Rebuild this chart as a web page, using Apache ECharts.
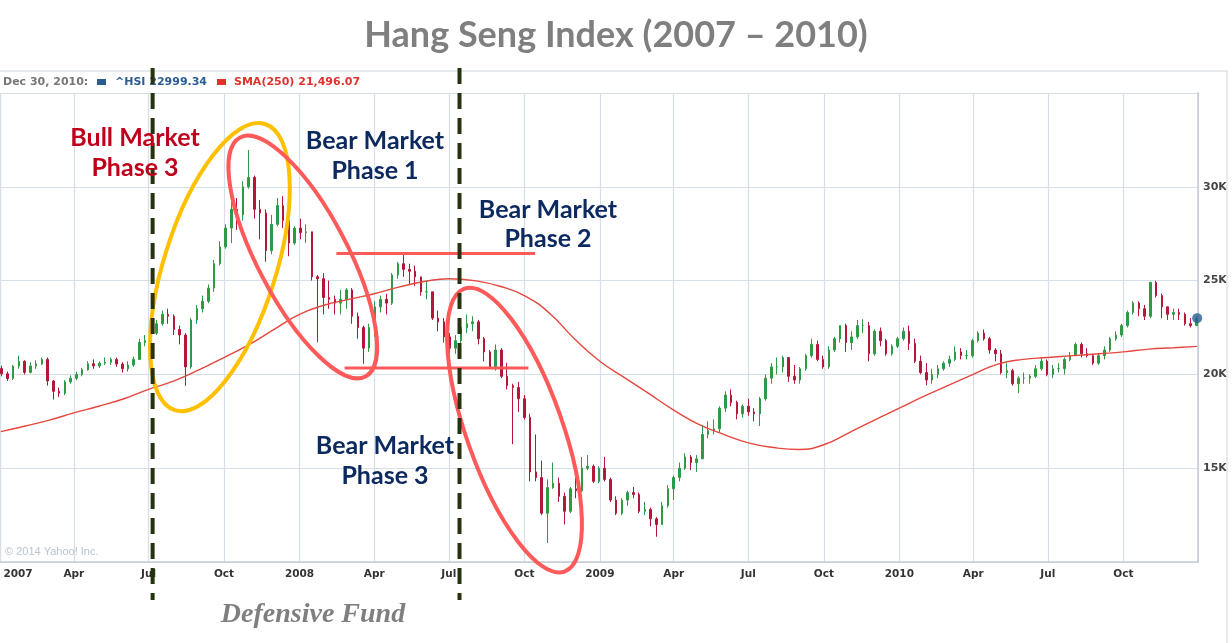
<!DOCTYPE html>
<html>
<head>
<meta charset="utf-8">
<title>Hang Seng Index (2007 – 2010)</title>
<script src="https://cdn.jsdelivr.net/npm/echarts@6/dist/echarts.min.js"></script>
<style>
    html, body {margin: 0; padding: 0; background: #fff;}
    #chart {width: 1232px; height: 643px;}
</style>
</head>
<body>
<div id="chart"></div>
<script>
// weekly candles, one row per week (Mon-Fri), [open, close, low, high]
const firstWeek = [2007, 0, 3];

const hsi2007 = [
    [20310, 20030, 19900, 20460], [20030, 19780, 19650, 20150], [19780, 20440, 19700, 20500], [20440, 20700, 20300, 21000],
    [20700, 20110, 20000, 20750], [20110, 20450, 20050, 20650], [20450, 20560, 20300, 20750], [20560, 20800, 20500, 20900],
    [20800, 19650, 19400, 20900], [19650, 19100, 18660, 19700], [19100, 19000, 18800, 19300], [19000, 19600, 18900, 19700],
    [19600, 19800, 19500, 19950], [19800, 20000, 19700, 20150], [20000, 20250, 19900, 20350], [20250, 20570, 20200, 20700],
    [20570, 20450, 20300, 20800], [20450, 20600, 20350, 20700], [20600, 20650, 20500, 20900], [20650, 20800, 20500, 20900],
    [20800, 20550, 20400, 20900], [20550, 20300, 20100, 20650], [20300, 20500, 20150, 20700], [20500, 20800, 20400, 20950],
    [20800, 21700, 20800, 21900], [21700, 21800, 21500, 22100], [21800, 22200, 21700, 22400], [22200, 22700, 22100, 22900],
    [22700, 23200, 22600, 23400], [23200, 23100, 22700, 23500], [23100, 22400, 22100, 23200], [22400, 22100, 21600, 22600],
    [22100, 20400, 19390, 22200], [20400, 22900, 20300, 23000], [22900, 23500, 22700, 23700], [23500, 23900, 23300, 24200],
    [23900, 24600, 23800, 24800], [24600, 25900, 24400, 26100], [25900, 26800, 25800, 27100], [26800, 27800, 26700, 28000],
    [27800, 28800, 27000, 29200], [28800, 28500, 27700, 29400], [28500, 30000, 28200, 30300], [30000, 30500, 29900, 31960],
    [30500, 28800, 28300, 30600], [28800, 28600, 27200, 29300], [28600, 26600, 26000, 28800], [26600, 28000, 26400, 28500],
    [28000, 29000, 27900, 29400], [29000, 28200, 27800, 29500], [28200, 27000, 26300, 28300], [27000, 27800, 26900, 27900]
];

const hsi2008 = [
    [27800, 27560, 27200, 28300], [27560, 27600, 27000, 28000], [27600, 25200, 25000, 27600], [25200, 25100, 21710, 25300],
    [25100, 24100, 23200, 25400], [24100, 24000, 23500, 25000], [24000, 23800, 23200, 24200], [23800, 24000, 23200, 24500],
    [24000, 24500, 23500, 24600], [24500, 23100, 22700, 24600], [23100, 22500, 21900, 23300], [22500, 21400, 20570, 22600],
    [21400, 22500, 21200, 22700], [22500, 23600, 22000, 23900], [23600, 24000, 23300, 24200], [24000, 23800, 23200, 24300],
    [23800, 25300, 23700, 25400], [25300, 25900, 25100, 26000], [25900, 25600, 25200, 26390], [25600, 25500, 24800, 25900],
    [25500, 25200, 24700, 25800], [25200, 24400, 24200, 25200], [24400, 24400, 24000, 25000], [24400, 23000, 22900, 24400],
    [23000, 22800, 22300, 23400], [22800, 22000, 21700, 23000], [22000, 21400, 21100, 22200], [21400, 21800, 21100, 22100],
    [21800, 22500, 21200, 22700], [22500, 22700, 22200, 23200], [22700, 22800, 22300, 23100], [22800, 21900, 21600, 22900],
    [21900, 21200, 20700, 22000], [21200, 20400, 20300, 21300], [20400, 21300, 20200, 21600], [21300, 19900, 19800, 21400],
    [19900, 19400, 19200, 20600], [19400, 19300, 16280, 19500], [19300, 18700, 18000, 19600], [18700, 17700, 17600, 18900],
    [17700, 14800, 14300, 17900], [14800, 14500, 14300, 16800], [14500, 12600, 12500, 15400], [12600, 13970, 11015, 14400],
    [13970, 14200, 13900, 15300], [14200, 13500, 13200, 14500], [13500, 12700, 12000, 13700], [12700, 13900, 12600, 14000],
    [13900, 13800, 13400, 14500], [13800, 15000, 13700, 15600], [15000, 15100, 14900, 15700], [15100, 14300, 14200, 15200],
    [14300, 15000, 14200, 15100]
];

const hsi2009 = [
    [15000, 14400, 14300, 15600], [14400, 13300, 13200, 14500], [13300, 12600, 12500, 13500], [12600, 13300, 12500, 13400],
    [13300, 13700, 13000, 13800], [13700, 13600, 13400, 14000], [13600, 12700, 12600, 13700], [12700, 12800, 12500, 13200],
    [12800, 12300, 11900, 12900], [12300, 12000, 11345, 12400], [12000, 13000, 12000, 13200], [13000, 13900, 12900, 14100],
    [13900, 14500, 13300, 14600], [14500, 15000, 14300, 15300], [15000, 15600, 14900, 15800], [15600, 15300, 14900, 15700],
    [15300, 15500, 14800, 15700], [15500, 16800, 15500, 17300], [16800, 17000, 16600, 17500], [17000, 17100, 16800, 17600],
    [17100, 18200, 16900, 18300], [18200, 18900, 18000, 19100], [18900, 18500, 18300, 19200], [18500, 17900, 17600, 18600],
    [17900, 18300, 17700, 18400], [18300, 18000, 17800, 18700], [18000, 17900, 17500, 18200], [17900, 18700, 17250, 18800],
    [18700, 19800, 18600, 20000], [19800, 20400, 19500, 20600], [20400, 20400, 20000, 20900], [20400, 20900, 20100, 21000],
    [20900, 19900, 19600, 20900], [19900, 19700, 19500, 20500], [19700, 20300, 19500, 20400], [20300, 21000, 20200, 21100],
    [21000, 21600, 20900, 21900], [21600, 20800, 20700, 21800], [20800, 20400, 20300, 21000], [20400, 21300, 20300, 21500],
    [21300, 21900, 21200, 22000], [21900, 22600, 21700, 22600], [22600, 21700, 21200, 22700], [21700, 22000, 21300, 22300],
    [22000, 22600, 21900, 22900], [22600, 22600, 22200, 22940], [22600, 21100, 20700, 22800], [21100, 22300, 21000, 22400],
    [22300, 21800, 21500, 22500], [21800, 21100, 21000, 21900], [21100, 21500, 21000, 21600], [21500, 21900, 21400, 22000]
];

const hsi2010 = [
    [21900, 22300, 21800, 22500], [22300, 21650, 21300, 22600], [21650, 20700, 20600, 21900], [20700, 20100, 20000, 21000],
    [20100, 19700, 19420, 20600], [19700, 20000, 19500, 20300], [20000, 20300, 19800, 20500], [20300, 20600, 20200, 20700],
    [20600, 20800, 20400, 21000], [20800, 21200, 20700, 21500], [21200, 21000, 20800, 21400], [21000, 21000, 20800, 21300],
    [21000, 21800, 20900, 21900], [21800, 22200, 21700, 22300], [22200, 21900, 21800, 22400], [21900, 21300, 21100, 22000],
    [21300, 21100, 20700, 21400], [21100, 20100, 20000, 21300], [20100, 20200, 19800, 20600], [20200, 19500, 19400, 20300],
    [19500, 19800, 19000, 19900], [19800, 19800, 19500, 20100], [19800, 19900, 19500, 20000], [19900, 20300, 19800, 20500],
    [20300, 20700, 20200, 20900], [20700, 20000, 19900, 20800], [20000, 20300, 19800, 20500], [20300, 20300, 20100, 20600],
    [20300, 20800, 20000, 20900], [20800, 21000, 20700, 21200], [21000, 21600, 21000, 21700], [21600, 21100, 20900, 21700],
    [21100, 21000, 20900, 21400], [21000, 20600, 20500, 21100], [20600, 21000, 20500, 21100], [21000, 21300, 20800, 21500],
    [21300, 21900, 21200, 22000], [21900, 22100, 21800, 22300], [22100, 22600, 22000, 22700], [22600, 23300, 22500, 23400],
    [23300, 23800, 23200, 23900], [23800, 23500, 23100, 23900], [23500, 23100, 22900, 23700], [23100, 24900, 23000, 24950],
    [24900, 24200, 24100, 24990], [24200, 23600, 23000, 24300], [23600, 23200, 22900, 23600], [23200, 23300, 22900, 23500],
    [23300, 23200, 22900, 23500], [23200, 22700, 22600, 23300], [22700, 22600, 22500, 23000], [22600, 23000, 22600, 23100]
];

// SMA(250), read at the start of each month, plus the last day
const smaMonthly = [
    16950, 17250, 17550, 17950, 18300, 18700, 19200, 19650, 20250, 20900, 21600, 22400,
    23200, 23700, 24000, 24300, 24650, 24950, 25100, 25000, 24700, 24200, 23250, 21900,
    20700, 19800, 19000, 18100, 17350, 16800, 16350, 16100, 16000, 16250, 16900, 17550,
    18200, 18850, 19400, 20000, 20550, 20800, 20900, 21000, 21100, 21200, 21350, 21420
];
const smaLast = ['2010-12-30', 21496.07];
const lastQuote = ['2010-12-30', 22999.34];

const monthNames = ['Jan', 'Feb', 'Mar', 'Apr', 'May', 'Jun', 'Jul', 'Aug', 'Sep', 'Oct', 'Nov', 'Dec'];
const yTicks = [15000, 20000, 25000, 30000];

const chart = echarts.init(document.getElementById('chart'));

const weekly = [].concat(hsi2007, hsi2008, hsi2009, hsi2010);
const candles = weekly.map((row, i) => {
    const d = new Date(firstWeek[0], firstWeek[1], firstWeek[2] + 7 * i);
    return [d.getTime()].concat(row);
});

const sma = smaMonthly.map((v, i) => [new Date(2007 + Math.floor(i / 12), i % 12, i === 0 ? 2 : 1).getTime(), v]);
sma.push([new Date(smaLast[0] + 'T00:00:00').getTime(), smaLast[1]]);

const xMin = new Date(2007, 0, 1).getTime();
const gridColor = '#d6dee6';

chart.setOption({
    animation: false,
    backgroundColor: '#fff',
    grid: {left: 0, right: 34, top: 93, bottom: 81, containLabel: false, outerBoundsMode: 'none'},
    xAxis: {
        type: 'time',
        min: xMin,
        max: new Date(2010, 11, 31).getTime(),
        splitNumber: 16,
        axisLine: {lineStyle: {color: '#c3cdd7', width: 1.5}},
        axisTick: {show: false},
        splitLine: {show: true, lineStyle: {color: gridColor, width: 1.2}},
        axisLabel: {
            color: '#333',
            fontFamily: 'DejaVu Sans',
            fontSize: 10.5,
            fontWeight: 'bold',
            margin: 7,
            formatter: value => {
                const d = new Date(value);
                if (d.getMonth() !== 0) return monthNames[d.getMonth()];
                // first label sits flush with the left edge
                return value <= xMin ? '{first|' + d.getFullYear() + '}' : String(d.getFullYear());
            },
            rich: {
                first: {
                    color: '#333', fontFamily: 'DejaVu Sans', fontSize: 10.5, fontWeight: 'bold',
                    padding: [0, 0, 0, 36]
                }
            }
        }
    },
    yAxis: {
        type: 'value',
        position: 'right',
        min: 10000,
        max: 35000,
        interval: 5000,
        axisLine: {show: true, lineStyle: {color: '#c3cdd7', width: 1.5}},
        axisTick: {show: false},
        splitLine: {show: true, lineStyle: {color: gridColor, width: 1.2}},
        axisLabel: {
            color: '#444',
            fontFamily: 'DejaVu Sans',
            fontSize: 11,
            fontWeight: 'bold',
            margin: 5,
            formatter: v => yTicks.indexOf(v) >= 0 ? (v / 1000) + 'K' : ''
        }
    },
    series: [
        {
            name: '^HSI',
            type: 'candlestick',
            data: candles,
            encode: {x: 0, y: [1, 2, 3, 4]},
            barWidth: 2,
            itemStyle: {
                color: '#2f9a45',
                color0: '#b3183b',
                borderColor: '#2f9a45',
                borderColor0: '#b3183b',
                borderWidth: 1
            }
        },
        {
            name: 'SMA(250)',
            type: 'line',
            data: sma,
            smooth: true,
            showSymbol: false,
            lineStyle: {color: '#e6473e', width: 1.4}
        },
        {
            type: 'scatter',
            data: [[new Date(lastQuote[0] + 'T00:00:00').getTime(), lastQuote[1]]],
            symbolSize: 10,
            itemStyle: {color: '#2b5d93'},
            clip: false,
            z: 5
        }
    ]
});

// annotations, placed from dates and index levels
const px = (date, value) => chart.convertToPixel({xAxisIndex: 0, yAxisIndex: 0}, [new Date(date + 'T00:00:00').getTime(), value]);

const dashX = ['2007-07-06', '2008-07-14'].map(d => px(d, 20000)[0]);
const topBand = ['2008-02-15', '2008-10-14'].map(d => px(d, 26450));
const lowBand = ['2008-02-25', '2008-10-06'].map(d => px(d, 20340));
const yellow = px('2007-09-26', 25720);
const bear1 = px('2008-01-05', 26260);
const bear3 = px('2008-09-19', 17030);

const ring = (c, rx, ry, rot, color) => ({
    type: 'ellipse',
    x: c[0], y: c[1], rotation: rot,
    shape: {cx: 0, cy: 0, rx: rx, ry: ry},
    style: {fill: null, stroke: color, lineWidth: 4},
    z: 50
});
const label = (x, y, text, fill, font) => ({
    type: 'text', x: x, y: y, z: 60,
    style: {text: text, fill: fill, font: font, textAlign: 'center', textVerticalAlign: 'middle'}
});
const phaseFont = 'bold 25px Lato';
const bullRed = '#c0001a';
const bearBlue = '#0d2a60';
const legendFont = 'bold 11px "DejaVu Sans"';

chart.setOption({
    graphic: [
        {type: 'line', shape: {x1: 0, y1: 71, x2: 1228, y2: 71}, style: {stroke: '#dfe5eb', lineWidth: 1.5}, z: 1},
        {type: 'line', shape: {x1: 1227, y1: 71, x2: 1227, y2: 643}, style: {stroke: '#dfe5eb', lineWidth: 1.5}, z: 1},
        {type: 'text', x: 616, y: 35, style: {text: 'Hang Seng Index (2007 – 2010)', fill: '#7f7f7f', font: 'bold 36px Lato', textAlign: 'center', textVerticalAlign: 'middle'}},
        {type: 'text', x: 3, y: 82, style: {text: 'Dec 30, 2010:', fill: '#777', font: legendFont, textVerticalAlign: 'middle'}},
        {type: 'rect', shape: {x: 97, y: 79, width: 9, height: 6}, style: {fill: '#2b5d93'}},
        {type: 'text', x: 115, y: 82, style: {text: '^HSI 22999.34', fill: '#2b5d93', font: legendFont, textVerticalAlign: 'middle'}},
        {type: 'rect', shape: {x: 217, y: 79, width: 9, height: 6}, style: {fill: '#e0332b'}},
        {type: 'text', x: 234, y: 82, style: {text: 'SMA(250) 21,496.07', fill: '#e0332b', font: legendFont, textVerticalAlign: 'middle'}},
        {type: 'text', x: 5, y: 552, style: {text: '© 2014 Yahoo! Inc.', fill: '#b7c3cf', font: '11px "Liberation Sans"', textVerticalAlign: 'middle'}},
        ring(yellow, 56, 150, -0.305, '#ffc000'),
        ring(bear1, 45, 135, 0.483, '#ff5a5a'),
        ring(bear3, 48, 150, 0.34, '#ff5a5a'),
        {type: 'line', shape: {x1: topBand[0][0], y1: topBand[0][1], x2: topBand[1][0], y2: topBand[1][1]}, style: {stroke: '#ff5a5a', lineWidth: 3}, z: 50},
        {type: 'line', shape: {x1: lowBand[0][0], y1: lowBand[0][1], x2: lowBand[1][0], y2: lowBand[1][1]}, style: {stroke: '#ff5a5a', lineWidth: 3}, z: 50},
        ...dashX.map(x => ({
            type: 'line', z: 55,
            shape: {x1: x, y1: 68, x2: x, y2: 600},
            style: {stroke: '#27330f', lineWidth: 4, lineDash: [16, 9]}
        })),
        label(135, 138, 'Bull Market', bullRed, phaseFont),
        label(135, 168, 'Phase 3', bullRed, phaseFont),
        label(375, 141, 'Bear Market', bearBlue, phaseFont),
        label(375, 171, 'Phase 1', bearBlue, phaseFont),
        label(548, 210, 'Bear Market', bearBlue, phaseFont),
        label(548, 239, 'Phase 2', bearBlue, phaseFont),
        label(385, 446, 'Bear Market', bearBlue, phaseFont),
        label(385, 476, 'Phase 3', bearBlue, phaseFont),
        label(313, 615, 'Defensive Fund', '#7f7f7f', 'italic bold 28px "Liberation Serif"')
    ]
});
</script>
</body>
</html>
